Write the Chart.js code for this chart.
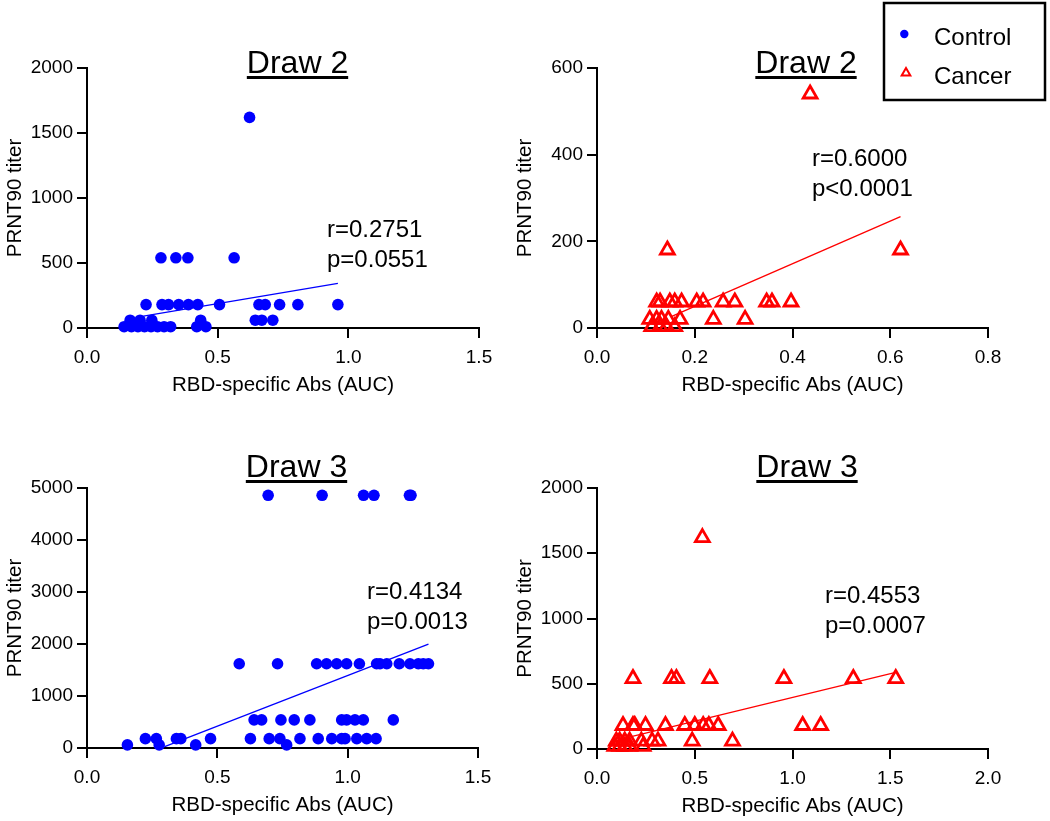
<!DOCTYPE html>
<html><head><meta charset="utf-8">
<script src="https://cdn.jsdelivr.net/npm/chart.js@4"></script>
<style>
html,body{margin:0;padding:0;background:#fff;width:1050px;height:821px;overflow:hidden}
canvas{position:absolute;left:0;top:0}
</style></head><body>
<canvas id="c1" width="1050" height="821"></canvas>
<canvas id="c2" width="1050" height="821"></canvas>
<canvas id="c3" width="1050" height="821"></canvas>
<canvas id="c4" width="1050" height="821"></canvas>
<script>
const FONT = "'Liberation Sans', Arial, Helvetica, sans-serif";

// ---- Draw 2, Control ----
const d2ControlX = [0.622, 0.283,0.340,0.386,0.563,
  0.226,0.287,0.312,0.351,0.388,0.424,0.507,0.658,0.682,0.737,0.807,0.960,
  0.644,0.669,0.711,0.435,0.165,0.203,0.248,
  0.142,0.170,0.195,0.220,0.245,0.270,0.295,0.320,0.420,0.455];
const d2ControlY = [1620, 540,540,540,540,
  180,180,180,180,180,180,180,180,180,180,180,180,
  60,60,60,60,60,60,60,
  10,10,10,10,10,10,10,10,10,10];
const d2ControlFitX = [0.216, 0.960];
const d2ControlFitY = [92, 343];

// ---- Draw 2, Cancer ----
const d2CancerX = [0.436, 0.621, 0.144,
  0.122,0.129,0.149,0.159,0.173,0.204,0.217,0.258,0.282,0.347,0.358,0.397,
  0.108,0.122,0.132,0.146,0.170,0.238,0.303,
  0.112,0.129,0.142,0.159];
const d2CancerY = [540, 180, 180,
  60,60,60,60,60,60,60,60,60,60,60,60,
  20,20,20,20,20,20,20,
  3,3,3,3];
const d2CancerFitX = [0.153, 0.621];
const d2CancerFitY = [27, 257];

// ---- Draw 3, Control ----
const d3ControlX = [0.695,0.902,1.061,1.101,1.237,1.243,
  0.584,0.731,0.881,0.919,0.958,0.996,1.045,1.111,1.124,1.150,1.198,1.239,1.271,1.290,1.310,
  0.641,0.670,0.744,0.795,0.855,0.977,0.996,1.028,1.060,1.175,
  0.224,0.266,0.343,0.360,0.474,0.627,0.699,0.740,0.817,0.887,0.939,0.977,0.990,1.035,1.073,1.109,
  0.155,0.277,0.417,0.766];
const d3ControlY = [4860,4860,4860,4860,4860,4860,
  1620,1620,1620,1620,1620,1620,1620,1620,1620,1620,1620,1620,1620,1620,1620,
  540,540,540,540,540,540,540,540,540,540,
  180,180,180,180,180,180,180,180,180,180,180,180,180,180,180,180,
  60,60,60,60];
const d3ControlFitX = [0.298, 1.310];
const d3ControlFitY = [27, 1998];

// ---- Draw 3, Cancer ----
const d3CancerX = [0.539,
  0.184,0.381,0.406,0.577,0.956,1.311,1.528,
  0.133,0.184,0.193,0.248,0.350,0.449,0.500,0.543,0.572,0.620,1.052,1.144,
  0.099,0.116,0.142,0.167,0.227,0.282,0.312,0.487,0.693,
  0.091,0.116,0.142,0.167,0.236];
const d3CancerY = [1620,
  540,540,540,540,540,540,540,
  180,180,180,180,180,180,180,180,180,180,180,180,
  60,60,60,60,60,60,60,60,60,
  20,20,20,20,20];
const d3CancerFitX = [0.133, 1.528];
const d3CancerFitY = [80, 587];

// tick labels
const xTicks15 = [0, 0.5, 1.0, 1.5];
const xTicks08 = [0, 0.2, 0.4, 0.6, 0.8];
const xTicks20 = [0, 0.5, 1.0, 1.5, 2.0];
const yTicks2000 = [0, 500, 1000, 1500, 2000];
const yTicks600 = [0, 200, 400, 600];
const yTicks5000 = [0, 1000, 2000, 3000, 4000, 5000];

const titles = ['Draw 2', 'Draw 2', 'Draw 3', 'Draw 3'];
const stats = [['r=0.2751','p=0.0551'], ['r=0.6000','p<0.0001'], ['r=0.4134','p=0.0013'], ['r=0.4553','p=0.0007']];
const legendLabels = ['Control', 'Cancer'];

const BLUE = '#0000ff', RED = '#ff0000';

function pts(xs, ys){ return xs.map((x,i)=>({x:x, y:ys[i]})); }

function drawTri(ctx, x, y, r){
  ctx.beginPath();
  for (let k=0;k<3;k++){
    const a = k*2*Math.PI/3;
    const px = x + Math.sin(a)*r, py = y - Math.cos(a)*r;
    if (k===0) ctx.moveTo(px,py); else ctx.lineTo(px,py);
  }
  ctx.closePath();
}

const panels = [
  {id:'c1', xs:d2ControlX, ys:d2ControlY, fx:d2ControlFitX, fy:d2ControlFitY, xt:xTicks15, yt:yTicks2000, dec:1,
   area:{l:87,t:68,r:479,b:328}, title:titles[0], tx:297.5, tb:73, st:stats[0], sx:327, sy:237, color:BLUE, tri:false},
  {id:'c2', xs:d2CancerX, ys:d2CancerY, fx:d2CancerFitX, fy:d2CancerFitY, xt:xTicks08, yt:yTicks600, dec:1,
   area:{l:597,t:68,r:988,b:328}, title:titles[1], tx:806, tb:73, st:stats[1], sx:812, sy:166, color:RED, tri:true, legend:true},
  {id:'c3', xs:d3ControlX, ys:d3ControlY, fx:d3ControlFitX, fy:d3ControlFitY, xt:xTicks15, yt:yTicks5000, dec:1,
   area:{l:87,t:488,r:478,b:748}, title:titles[2], tx:296.5, tb:477, st:stats[2], sx:367, sy:599, color:BLUE, tri:false},
  {id:'c4', xs:d3CancerX, ys:d3CancerY, fx:d3CancerFitX, fy:d3CancerFitY, xt:xTicks20, yt:yTicks2000, dec:1,
   area:{l:597,t:488,r:988,b:749}, title:titles[3], tx:807, tb:477, st:stats[3], sx:825, sy:603, color:RED, tri:true}
];

const YW = 87, XH = 71;

panels.forEach(p => {
  const overlay = {
    id:'overlay'+p.id,
    afterDraw(chart){
      const ctx = chart.ctx;
      ctx.save();
      ctx.fillStyle = '#000';
      ctx.font = '32px ' + FONT;
      ctx.textAlign = 'center';
      ctx.textBaseline = 'alphabetic';
      ctx.fillText(p.title, p.tx, p.tb);
      const w = ctx.measureText(p.title).width;
      ctx.fillRect(p.tx - w/2, p.tb + 3, w, 3);
      ctx.font = '24px ' + FONT;
      ctx.textAlign = 'left';
      ctx.fillText(p.st[0], p.sx, p.sy);
      ctx.fillText(p.st[1], p.sx, p.sy + 30);
      if (p.legend){
        ctx.strokeStyle = '#000';
        ctx.lineWidth = 2.5;
        ctx.strokeRect(884, 3, 161, 97);
        ctx.fillStyle = BLUE;
        ctx.beginPath(); ctx.arc(904.3, 34, 4.2, 0, 2*Math.PI); ctx.fill();
        ctx.strokeStyle = RED; ctx.lineWidth = 2;
        drawTri(ctx, 906, 73, 5); ctx.stroke();
        ctx.fillStyle = '#000';
        ctx.font = '24px ' + FONT;
        ctx.fillText(legendLabels[0], 934, 45);
        ctx.fillText(legendLabels[1], 934, 83.5);
      }
      ctx.restore();
    }
  };
  const scaleCommon = {
    type:'linear',
    grid:{display:true, drawOnChartArea:false, drawTicks:true, tickLength:10, color:'#000', lineWidth:2},
    border:{display:true, color:'#000', width:2},
  };
  new Chart(document.getElementById(p.id), {
    type:'scatter',
    data:{datasets:[
      {data:pts(p.fx, p.fy), showLine:true, pointRadius:0, borderColor:p.color, borderWidth:1.3, clip:false, order:0},
      p.tri ?
      {data:pts(p.xs, p.ys), pointStyle:'triangle', pointRadius:8, borderColor:p.color, borderWidth:2.8,
       backgroundColor:'rgba(0,0,0,0)', clip:false, order:1}
      :
      {data:pts(p.xs, p.ys), pointStyle:'circle', pointRadius:5.8, borderWidth:0,
       backgroundColor:p.color, borderColor:p.color, clip:false, order:1}
    ]},
    options:{
      responsive:false, animation:false,
      layout:{padding:{left:p.area.l - YW, top:p.area.t, right:1050 - p.area.r, bottom:821 - p.area.b - XH}},
      plugins:{legend:{display:false}, tooltip:{enabled:false}, title:{display:false}},
      events:[],
      scales:{
        x: Object.assign({}, scaleCommon, {
          min:p.xt[0], max:p.xt[p.xt.length-1],
          afterBuildTicks: s => { s.ticks = p.xt.map(v => ({value:v})); },
          afterFit: s => { s.height = XH; },
          ticks:{color:'#000', font:{family:FONT, size:19}, padding:8, maxRotation:0, autoSkip:false,
                 callback: v => Number(v).toFixed(p.dec)},
          title:{display:true, text:'RBD-specific Abs (AUC)', color:'#000', font:{family:FONT, size:20.5}, padding:{top:0, bottom:1}}
        }),
        y: Object.assign({}, scaleCommon, {
          min:p.yt[0], max:p.yt[p.yt.length-1],
          afterBuildTicks: s => { s.ticks = p.yt.map(v => ({value:v})); },
          afterFit: s => { s.width = YW; },
          ticks:{color:'#000', font:{family:FONT, size:19}, padding:4, autoSkip:false,
                 callback: v => String(v)},
          title:{display:true, text:'PRNT90 titer', color:'#000', font:{family:FONT, size:20.5}, padding:{top:3, bottom:0}}
        })
      }
    },
    plugins:[overlay]
  });
});
</script>
</body></html>
